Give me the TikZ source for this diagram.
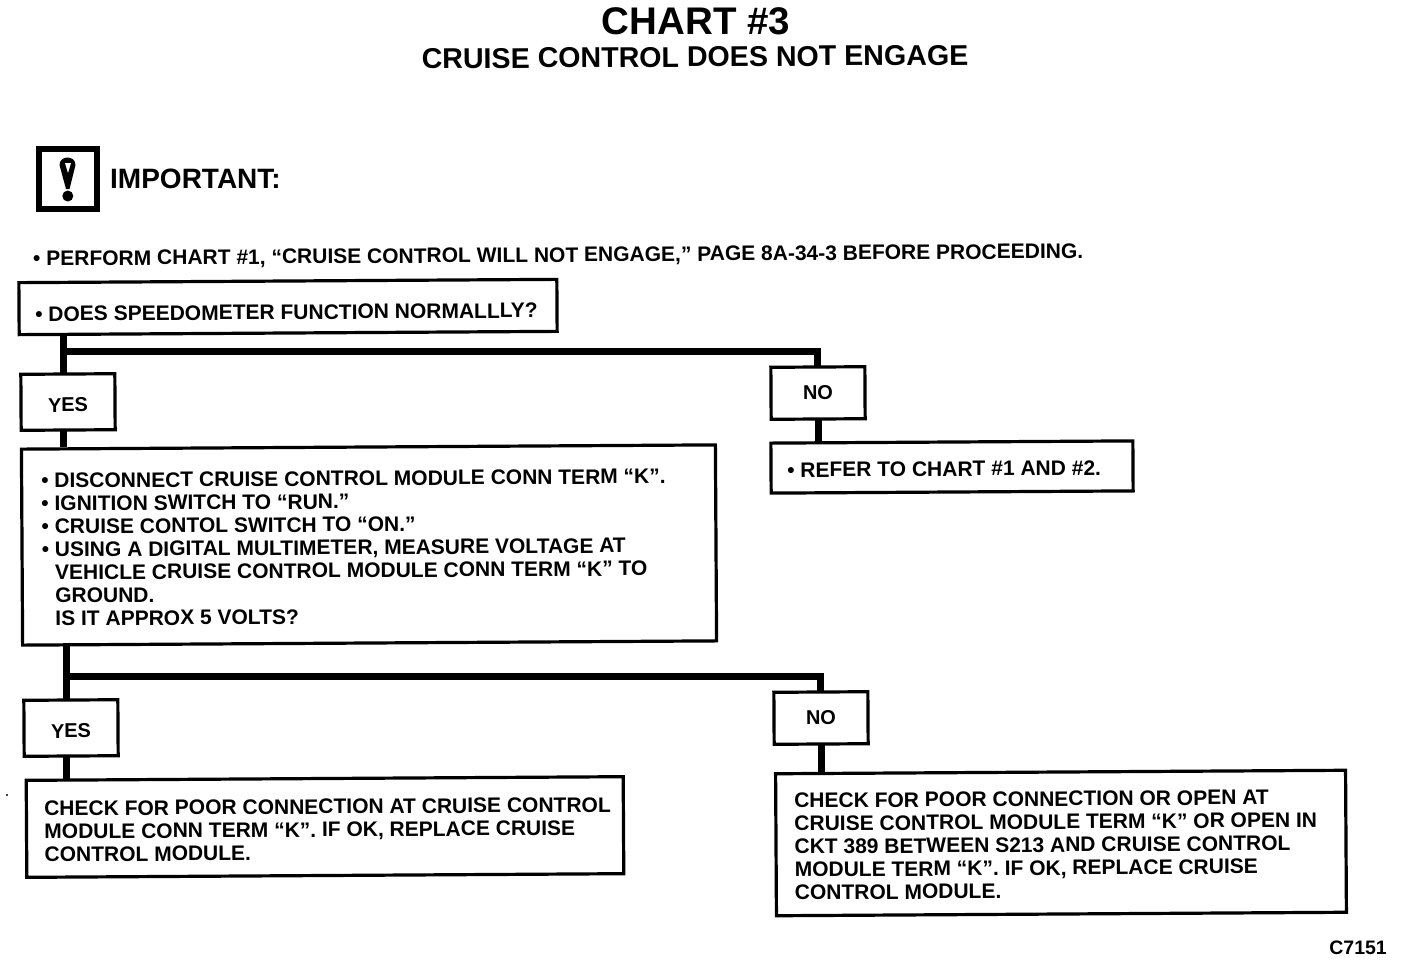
\documentclass[tikz,border=0pt]{standalone}
\usepackage{fontspec}
\setmainfont{Liberation Sans}
\usetikzlibrary{positioning}
\tikzset{
  x=1pt, y=-1pt,
  chartbox/.style={draw=black, line width=3.2pt, fill=white, inner sep=0pt, rotate=0.35},
  answerbox/.style={chartbox, minimum width=94pt, minimum height=56pt, font=\fontsize{20}{20}\selectfont\bfseries},
  bodytext/.style={anchor=north west, align=left, inner sep=0pt, rotate=0.4, font=\fontsize{21}{23}\selectfont\bfseries},
  flowline/.style={draw=black, line width=7pt, shorten >=-2pt, shorten <=-2pt}
}
\begin{document}
\begin{tikzpicture}
  \useasboundingbox (0,0) rectangle (1408,962);
  % headings
  \node[font=\fontsize{38.5}{38.5}\selectfont\bfseries] (title) at (696,21) {CHART \#3};
  \node[font=\fontsize{28.6}{28.6}\selectfont\bfseries, rotate=0.4] (subtitle) at (695,57) {CRUISE CONTROL DOES NOT ENGAGE};
  % important sign
  \node[draw=black, line width=5.5pt, minimum width=58pt, minimum height=60pt, inner sep=0pt] (sign) at (68,179) {};
  \fill (59.5,165) .. controls (59.5,155) and (75.5,155) .. (75.5,165) -- (69.5,189) -- (66,189) -- cycle;
  \fill[white] (65,163) -- (71,163) -- (68,173) -- cycle;
  \fill (67.8,196) circle (5.5pt);
  \node[font=\fontsize{28}{28}\selectfont\bfseries, anchor=west, inner sep=0pt] (important) at (110,179) {IMPORTANT:};
  \node[bodytext, anchor=west] (perform) at (33,260) {• PERFORM CHART \#1, “CRUISE CONTROL WILL NOT ENGAGE,” PAGE 8A-34-3 BEFORE PROCEEDING.};
  % boxes
  \node[chartbox, minimum width=538pt, minimum height=52pt] (speedo) at (288,307) {};
  \node[bodytext, anchor=west] (speedotext) at (35,314) {• DOES SPEEDOMETER FUNCTION NORMALLLY?};
  \node[answerbox, text height=20pt] (yesa) at (68,402) {YES};
  \node[answerbox, minimum height=52pt] (noa) at (818,393) {NO};
  \node[chartbox, minimum width=362pt, minimum height=50pt] (refer) at (952,467) {};
  \node[bodytext, anchor=west] (refertext) at (787,470) {• REFER TO CHART \#1 AND \#2.};
  \node[chartbox, minimum width=694pt, minimum height=196pt] (measure) at (369,545) {};
  \node[bodytext] (measuretext) at (41,473) {• DISCONNECT CRUISE CONTROL MODULE CONN TERM “K”.\\
    • IGNITION SWITCH TO “RUN.”\\
    • CRUISE CONTOL SWITCH TO “ON.”\\
    • USING A DIGITAL MULTIMETER, MEASURE VOLTAGE AT\\
    \phantom{• }VEHICLE CRUISE CONTROL MODULE CONN TERM “K” TO\\
    \phantom{• }GROUND.\\
    \phantom{• }IS IT APPROX 5 VOLTS?};
  \node[answerbox, text height=20pt] (yesb) at (71,728) {YES};
  \node[answerbox, minimum height=52pt] (nob) at (821,718) {NO};
  \node[chartbox, minimum width=597pt, minimum height=97pt] (poor) at (325,827) {};
  \node[bodytext] (poortext) at (44,801) {CHECK FOR POOR CONNECTION AT CRUISE CONTROL\\
    MODULE CONN TERM “K”. IF OK, REPLACE CRUISE\\
    CONTROL MODULE.};
  \node[chartbox, minimum width=570pt, minimum height=142pt] (open) at (1061,843) {};
  \node[bodytext] (opentext) at (794,793) {CHECK FOR POOR CONNECTION OR OPEN AT\\
    CRUISE CONTROL MODULE TERM “K” OR OPEN IN\\
    CKT 389 BETWEEN S213 AND CRUISE CONTROL\\
    MODULE TERM “K”. IF OK, REPLACE CRUISE\\
    CONTROL MODULE.};
  \node[font=\fontsize{19.5}{19.5}\selectfont\bfseries, anchor=east, inner sep=0pt] (code) at (1387,948) {C7151};
  \fill (7,795) circle (1.2pt);
  % connectors
  \coordinate (splita) at (63,351);
  \coordinate (splitb) at (66,676);
  \draw[flowline] (speedo.south -| splita) -- (yesa.north -| splita);
  \draw[flowline] (splita) -| (noa.north);
  \draw[flowline] (yesa.south -| splita) -- (measure.north -| splita);
  \draw[flowline] (noa.south) -- (refer.north -| noa.south);
  \draw[flowline] (measure.south -| splitb) -- (yesb.north -| splitb);
  \draw[flowline] (splitb) -| (nob.north);
  \draw[flowline] (yesb.south -| splitb) -- (poor.north -| splitb);
  \draw[flowline] (nob.south) -- (open.north -| nob.south);
\end{tikzpicture}
\end{document}
